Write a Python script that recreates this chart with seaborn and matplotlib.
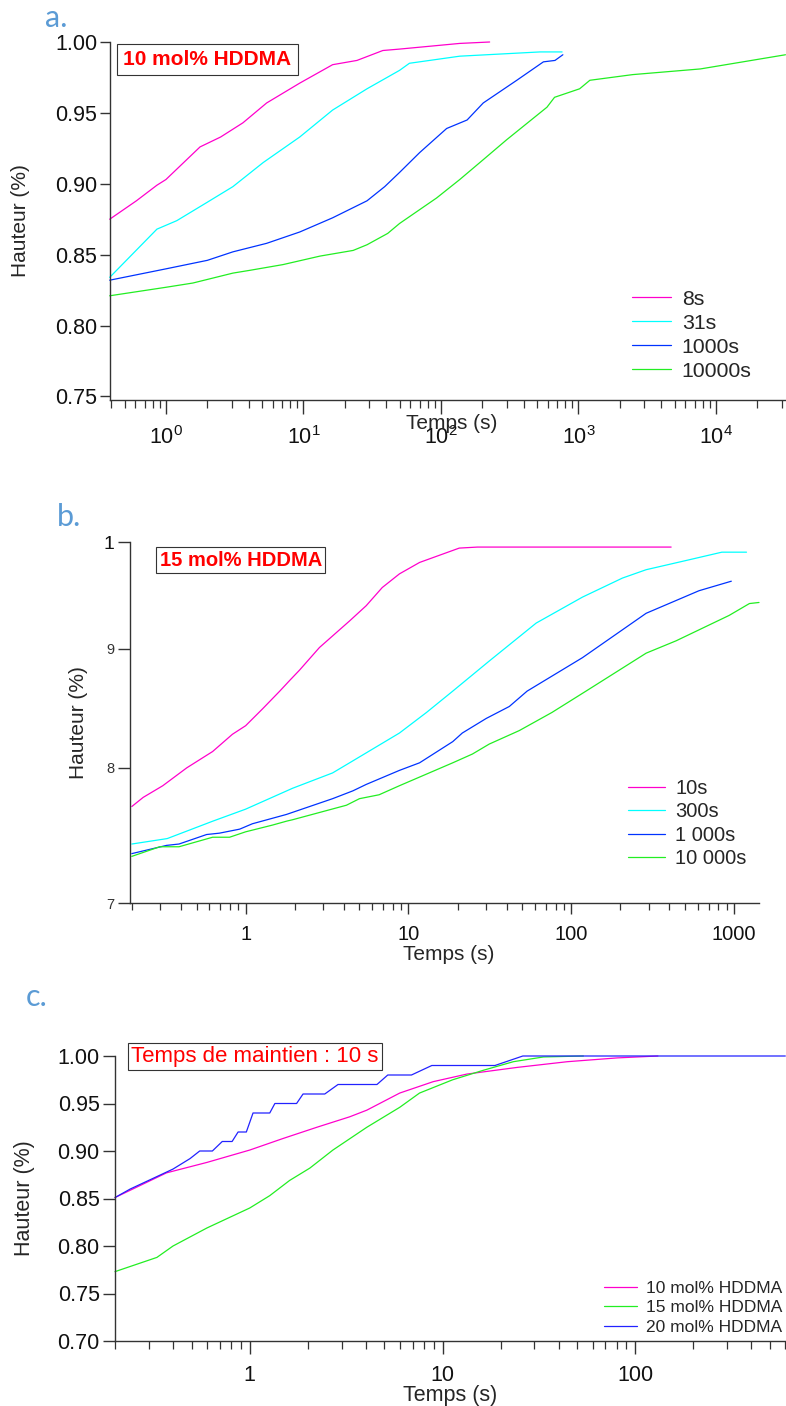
import numpy as np
import pandas as pd
import matplotlib
matplotlib.use("Agg")
import matplotlib.pyplot as plt
from matplotlib.ticker import FixedLocator, LogLocator, NullLocator, NullFormatter
import seaborn as sns

# ---- panel a : 10 mol% HDDMA ----
a_labels = ["8s", "31s", "1000s", "10000s"]
a_t_8 = [0.39, 0.61, 0.86, 1.0, 1.77, 2.5, 3.63, 5.4, 9.4, 16.3, 24.5, 37.8, 50, 137, 226]
a_h_8 = [0.875, 0.888, 0.899, 0.903, 0.926, 0.933, 0.943, 0.957, 0.971, 0.984, 0.987, 0.994, 0.995, 0.999, 1.000]
a_t_31 = [0.39, 0.86, 1.2, 2.0, 3.07, 5.1, 9.4, 16.3, 29, 50, 59, 137, 526, 760]
a_h_31 = [0.834, 0.868, 0.874, 0.887, 0.898, 0.915, 0.933, 0.952, 0.967, 0.980, 0.985, 0.990, 0.993, 0.993]
a_t_1000 = [0.39, 1, 2, 3.07, 5.4, 9.4, 16.3, 29, 39, 50, 70, 110, 155, 203, 356, 556, 675, 770]
a_h_1000 = [0.832, 0.840, 0.846, 0.852, 0.858, 0.866, 0.876, 0.888, 0.898, 0.908, 0.922, 0.939, 0.945, 0.957, 0.973, 0.986, 0.987, 0.991]
a_t_10000 = [0.39, 1, 1.57, 3.07, 4.1, 7.1, 13.2, 23, 29, 41, 50, 93, 137, 203, 300, 590, 670, 1020, 1210, 2480, 7700, 32000]
a_h_10000 = [0.821, 0.827, 0.830, 0.837, 0.839, 0.843, 0.849, 0.853, 0.857, 0.865, 0.872, 0.890, 0.903, 0.917, 0.931, 0.954, 0.961, 0.967, 0.973, 0.977, 0.981, 0.991]
a_xticks = [1, 10, 100, 1000, 10000]
a_xticklabels = [r"$\mathregular{10^{0}}$", r"$\mathregular{10^{1}}$", r"$\mathregular{10^{2}}$",
                 r"$\mathregular{10^{3}}$", r"$\mathregular{10^{4}}$"]
a_yticks = [0.75, 0.80, 0.85, 0.90, 0.95, 1.00]

# ---- panel b : 15 mol% HDDMA ----
b_labels = ["10s", "300s", "1 000s", "10 000s"]
b_t_10 = [0.2, 0.235, 0.31, 0.435, 0.627, 0.83, 1.0, 1.27, 1.62, 1.86, 2.14, 2.84, 4.35, 5.5, 6.9, 8.8, 11.7, 15.5, 20.5, 26.5, 410]
b_h_10 = [0.770, 0.777, 0.786, 0.800, 0.813, 0.827, 0.834, 0.848, 0.863, 0.872, 0.881, 0.901, 0.925, 0.939, 0.956, 0.969, 0.980, 0.987, 0.994, 0.995, 0.995]
b_t_300 = [0.2, 0.33, 0.63, 1.0, 1.94, 3.42, 4.35, 8.8, 12.9, 18.7, 31.3, 60.8, 117, 206, 288, 510, 840, 1190]
b_h_300 = [0.742, 0.746, 0.759, 0.768, 0.784, 0.796, 0.804, 0.828, 0.845, 0.863, 0.889, 0.923, 0.947, 0.965, 0.973, 0.982, 0.990, 0.990]
b_t_1000 = [0.2, 0.327, 0.39, 0.576, 0.69, 0.92, 1.1, 1.78, 3.42, 4.55, 5.5, 8.8, 11.7, 18.7, 21.4, 30, 41.6, 53.5, 117, 288, 608, 960]
b_h_1000 = [0.735, 0.741, 0.742, 0.749, 0.750, 0.753, 0.757, 0.764, 0.776, 0.782, 0.787, 0.798, 0.804, 0.821, 0.828, 0.840, 0.850, 0.863, 0.892, 0.932, 0.953, 0.962]
b_t_10000 = [0.2, 0.297, 0.39, 0.627, 0.797, 1.0, 1.46, 1.79, 1.94, 4.16, 5.0, 6.6, 8.8, 18.7, 24.7, 31.3, 47.9, 76, 123, 288, 440, 930, 1240, 1420]
b_h_10000 = [0.733, 0.740, 0.740, 0.747, 0.747, 0.751, 0.756, 0.759, 0.760, 0.771, 0.776, 0.779, 0.786, 0.804, 0.811, 0.819, 0.830, 0.845, 0.863, 0.896, 0.907, 0.930, 0.941, 0.942]
b_xticks = [1, 10, 100, 1000]
b_xticklabels = ["1", "10", "100", "1000"]
b_yticks = [0.7, 0.8, 0.9, 1.0]
b_yticklabels = ["7", "8", "9", "1"]

# ---- panel c : temps de maintien 10 s ----
c_labels = ["10 mol% HDDMA", "15 mol% HDDMA", "20 mol% HDDMA"]
c_t_10 = [0.2, 0.37, 0.6, 1.0, 1.48, 2.23, 3.3, 4.05, 6.0, 8.95, 13.4, 24.4, 44.4, 80.6, 131]
c_h_10 = [0.851, 0.877, 0.888, 0.901, 0.913, 0.925, 0.936, 0.943, 0.961, 0.973, 0.981, 0.988, 0.994, 0.998, 1.000]
c_t_15 = [0.2, 0.33, 0.4, 0.6, 1.0, 1.27, 1.61, 2.05, 2.7, 4.05, 6.0, 7.6, 11.3, 16.3, 23.3, 33.4, 53.8]
c_h_15 = [0.773, 0.788, 0.800, 0.819, 0.840, 0.853, 0.869, 0.882, 0.901, 0.925, 0.946, 0.961, 0.975, 0.985, 0.994, 0.999, 1.000]
c_t_20 = [0.2, 0.24, 0.4, 0.49, 0.55, 0.64, 0.72, 0.81, 0.87, 0.96, 1.04, 1.27, 1.35, 1.75, 1.89, 2.45, 2.87, 4.57, 5.2, 6.9, 8.8, 18.7, 26.1, 600]
c_h_20 = [0.851, 0.860, 0.881, 0.892, 0.900, 0.900, 0.910, 0.910, 0.920, 0.920, 0.940, 0.940, 0.950, 0.950, 0.960, 0.960, 0.970, 0.970, 0.980, 0.980, 0.990, 0.990, 1.000, 1.000]
c_xticks = [1, 10, 100]
c_xticklabels = ["1", "10", "100"]
c_yticks = [0.70, 0.75, 0.80, 0.85, 0.90, 0.95, 1.00]

MAGENTA, CYAN, BLUE, GREEN = "#FF00CC", "#00FFFF", "#0033FF", "#22EE22"
SPINE = "#333333"

sns.set_theme(style="ticks")
plt.rcParams["font.family"] = ["Liberation Sans", "DejaVu Sans"]
plt.rcParams["mathtext.fontset"] = "custom"
plt.rcParams["mathtext.rm"] = "Liberation Sans"
plt.rcParams["mathtext.it"] = "Liberation Sans:italic"


def long_df(labels, ts, hs):
    frames = [pd.DataFrame({"t": t, "h": h, "serie": lab}) for lab, t, h in zip(labels, ts, hs)]
    return pd.concat(frames, ignore_index=True)


def draw(ax, df, labels, colors):
    sns.lineplot(data=df, x="t", y="h", hue="serie", hue_order=labels,
                 palette=dict(zip(labels, colors)), estimator=None, sort=False,
                 lw=0.9, ax=ax)
    ax.set_xscale("log")
    for ln in ax.lines:
        ln.set_clip_on(False)
    sns.despine(ax=ax)
    for s in ["left", "bottom"]:
        ax.spines[s].set_color(SPINE)
        ax.spines[s].set_linewidth(1.0)


def style_ticks(ax, xticks, xlabels, major_len, minor_len, ylen, labelsize, xpad):
    ax.xaxis.set_major_locator(FixedLocator(xticks))
    ax.set_xticklabels(xlabels)
    ax.xaxis.set_minor_locator(LogLocator(base=10, subs=np.arange(2, 10), numticks=30))
    ax.xaxis.set_minor_formatter(NullFormatter())
    ax.tick_params(axis="x", which="major", direction="out", length=major_len, width=1.0,
                   color=SPINE, labelsize=labelsize, pad=xpad, labelcolor="#111111")
    ax.tick_params(axis="x", which="minor", direction="out", length=minor_len, width=0.9, color=SPINE)
    ax.tick_params(axis="y", which="major", direction="out", length=ylen, width=1.0,
                   color=SPINE, labelsize=labelsize, pad=2, labelcolor="#111111")


def legend(ax, x, y, size, hlen, spacing):
    h, l = ax.get_legend_handles_labels()
    ax.legend(h, l, loc="upper left", bbox_to_anchor=(x, y), frameon=False,
              fontsize=size, handlelength=hlen, handletextpad=0.5,
              labelspacing=spacing, borderpad=0, borderaxespad=0)


fig = plt.figure(figsize=(7.86, 14.06), dpi=100)

# ---------------- panel a ----------------
ax_a = fig.add_axes([110 / 786, 1 - 400 / 1406, 676 / 786, 358 / 1406])
df_a = long_df(a_labels, [a_t_8, a_t_31, a_t_1000, a_t_10000], [a_h_8, a_h_31, a_h_1000, a_h_10000])
draw(ax_a, df_a, a_labels, [MAGENTA, CYAN, BLUE, GREEN])
ax_a.set_xlim(0.392, 32300)
ax_a.set_ylim(0.7475, 1.0)
ax_a.set_yticks(a_yticks)
ax_a.set_yticklabels([f"{v:.2f}" for v in a_yticks])
style_ticks(ax_a, a_xticks, a_xticklabels, 10, 6, 7, 15.5, 9)
ax_a.set_xlabel("Temps (s)", fontsize=15)
ax_a.xaxis.set_label_coords(0.506, -0.040)
ax_a.set_ylabel("Hauteur (%)", fontsize=15)
ax_a.yaxis.set_label_coords(-0.118, 0.5)
legend(ax_a, 0.772, 0.308, 15.3, 1.85, 0.235)
ax_a.text(0.144, 0.951, "10 mol% HDDMA", transform=ax_a.transAxes, ha="center", va="center",
          color="red", fontsize=15, fontweight="bold",
          bbox=dict(boxstyle="square,pad=0.3", fc="white", ec=SPINE, lw=0.8))

# ---------------- panel b ----------------
ax_b = fig.add_axes([130 / 786, 1 - 903 / 1406, 629 / 786, 361 / 1406])
df_b = long_df(b_labels, [b_t_10, b_t_300, b_t_1000, b_t_10000], [b_h_10, b_h_300, b_h_1000, b_h_10000])
draw(ax_b, df_b, b_labels, [MAGENTA, CYAN, BLUE, GREEN])
ax_b.set_yscale("log")
ax_b.set_xlim(0.195, 1420)
ax_b.set_ylim(0.7, 1.0)
ax_b.yaxis.set_major_locator(FixedLocator(b_yticks))
ax_b.yaxis.set_minor_locator(NullLocator())
ax_b.set_yticklabels(b_yticklabels)
style_ticks(ax_b, b_xticks, b_xticklabels, 8, 5, 9, 14.5, 8)
for lab in ax_b.get_yticklabels():
    if lab.get_text() == "1":
        lab.set_fontsize(14)
    else:
        lab.set_fontsize(10.5)
        lab.set_color("#333333")
ax_b.set_xlabel("Temps (s)", fontsize=15)
ax_b.xaxis.set_label_coords(0.506, -0.115)
ax_b.set_ylabel("Hauteur (%)", fontsize=15)
ax_b.yaxis.set_label_coords(-0.067, 0.5)
legend(ax_b, 0.792, 0.344, 14.5, 1.85, 0.22)
ax_b.text(0.176, 0.950, "15 mol% HDDMA", transform=ax_b.transAxes, ha="center", va="center",
          color="red", fontsize=14.5, fontweight="bold",
          bbox=dict(boxstyle="square,pad=0.18", fc="white", ec=SPINE, lw=0.8))

# ---------------- panel c ----------------
ax_c = fig.add_axes([115 / 786, 1 - 1341 / 1406, 671 / 786, 285 / 1406])
df_c = long_df(c_labels, [c_t_10, c_t_15, c_t_20], [c_h_10, c_h_15, c_h_20])
draw(ax_c, df_c, c_labels, [MAGENTA, GREEN, "#2222FF"])
ax_c.set_xlim(0.2, 605)
ax_c.set_ylim(0.70, 1.0)
ax_c.set_yticks(c_yticks)
ax_c.set_yticklabels([f"{v:.2f}" for v in c_yticks])
style_ticks(ax_c, c_xticks, c_xticklabels, 9, 6, 9, 15.5, 8)
ax_c.set_xlabel("Temps (s)", fontsize=15.5)
ax_c.xaxis.set_label_coords(0.5, -0.155)
ax_c.set_ylabel("Hauteur (%)", fontsize=15.5)
ax_c.yaxis.set_label_coords(-0.119, 0.5)
legend(ax_c, 0.729, 0.211, 12.5, 1.9, 0.24)
ax_c.text(0.208, 0.998, "Temps de maintien : 10 s", transform=ax_c.transAxes, ha="center", va="center",
          color="red", fontsize=16,
          bbox=dict(boxstyle="square,pad=0.15", fc="white", ec=SPINE, lw=0.8))

# panel letters
for letter, (px, py) in zip(["a.", "b.", "c."], [(56, 18), (69, 517), (37, 997)]):
    fig.text(px / 786, 1 - py / 1406, letter, ha="center", va="center", color="#5B9BD5",
             fontsize=22, family=["Lato", "DejaVu Sans"])

fig.savefig("out.png", dpi=100)
